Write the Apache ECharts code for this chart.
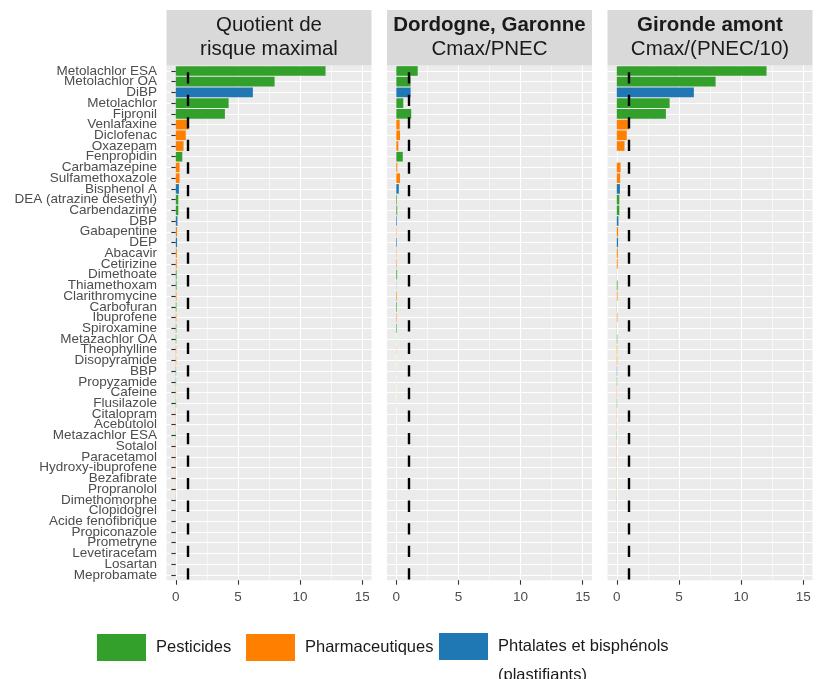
<!DOCTYPE html>
<html><head><meta charset="utf-8">
<script src="https://cdn.jsdelivr.net/npm/echarts@6/dist/echarts.min.js"></script>
<style>html,body{margin:0;padding:0;background:#fff}#c{width:826px;height:679px}</style>
</head><body><div id="c"></div>
<script>
const categories = ["Metolachlor ESA","Metolachlor OA","DiBP","Metolachlor","Fipronil","Venlafaxine","Diclofenac","Oxazepam","Fenpropidin","Carbamazepine","Sulfamethoxazole","Bisphenol A","DEA (atrazine desethyl)","Carbendazime","DBP","Gabapentine","DEP","Abacavir","Cetirizine","Dimethoate","Thiamethoxam","Clarithromycine","Carbofuran","Ibuprofene","Spiroxamine","Metazachlor OA","Theophylline","Disopyramide","BBP","Propyzamide","Cafeine","Flusilazole","Citalopram","Acebutolol","Metazachlor ESA","Sotalol","Paracetamol","Hydroxy-ibuprofene","Bezafibrate","Propranolol","Dimethomorphe","Clopidogrel","Acide fenofibrique","Propiconazole","Prometryne","Levetiracetam","Losartan","Meprobamate"];
const classes = ["P","P","B","P","P","H","H","H","P","H","H","B","P","P","B","H","B","H","H","P","P","H","P","H","P","P","H","H","B","P","H","P","H","H","P","H","H","H","H","H","P","H","H","P","P","H","H","H"];
const riskMax  = [12.05,7.95,6.2,4.25,3.95,1.0,0.8,0.62,0.52,0.3,0.3,0.25,0.2,0.2,0.13,0.1,0.1,0.08,0.07,0.065,0.06,0.055,0.05,0.048,0.045,0.04,0.04,0.04,0.03,0.03,0.03,0.03,0.02,0.02,0.02,0.015,0.015,0.01,0.01,0.01,0.01,0.008,0.005,0.005,0.004,0.003,0.002,0.001];
const dordogne = [1.72,1.15,1.15,0.56,1.2,0.27,0.3,0.16,0.52,0.08,0.3,0.2,0.05,0.07,0.05,0.03,0.05,0.03,0.04,0.065,0.02,0.05,0.05,0.04,0.045,0.01,0.02,0.01,0.01,0.01,0.01,0.01,0.005,0.005,0.005,0.005,0.005,0.003,0.003,0.003,0.003,0.002,0.002,0.002,0.001,0.001,0.001,0.0005];
const gironde  = [12.05,7.95,6.2,4.25,3.95,1.0,0.8,0.62,0,0.3,0.27,0.25,0.2,0.2,0.13,0.1,0.1,0.08,0.07,0.005,0.06,0.055,0.01,0.048,0.01,0.04,0.04,0.04,0.03,0.03,0.03,0.03,0.02,0.02,0.02,0.015,0.015,0.01,0.01,0.01,0.01,0.008,0.005,0.005,0.004,0.003,0.002,0.001];
const xTicks = [0,5,10,15];
const xMinor = [2.5,7.5,12.5];
const threshold = 1;
const classKeys = ["P","H","B"];
const classNames = {P:"Pesticides", H:"Pharmaceutiques", B:"Phtalates et bisphénols"};
const classColors = {P:"#33A02C", H:"#FF7F00", B:"#1F78B4"};
const stripTexts = ["{n|Quotient de}\n{n|risque maximal}", "{b|Dordogne, Garonne}\n{n|Cmax/PNEC}", "{b|Gironde amont}\n{n|Cmax/(PNEC/10)}"];
const panelValues = [riskMax, dordogne, gironde];

const FONT = "'Liberation Sans', Arial, sans-serif";
const lefts = [166.5, 387, 607.5];
const W = 205, TOP = 65.6, H = 514.6;

const grid = [], xAxis = [], yAxis = [], series = [], graphic = [];
lefts.forEach((l, i) => {
  grid.push({left:l, top:TOP, width:W, height:H, show:true, backgroundColor:'#EBEBEB', borderWidth:0});
  xAxis.push({type:'value', gridIndex:i, min:-0.75, max:15.75, position:'bottom',
    axisLine:{show:false},
    axisTick:{show:true, customValues:xTicks, length:4.5, lineStyle:{color:'#333333', width:1.1}},
    axisLabel:{customValues:xTicks, color:'#4D4D4D', fontSize:13.5, fontFamily:FONT, margin:10},
    splitLine:{show:true, lineStyle:{color:'#FFFFFF', width:1.1}}});
  xAxis.push({type:'value', gridIndex:i, min:-0.75, max:15.75, position:'bottom',
    axisLine:{show:false},
    axisTick:{show:false, customValues:xMinor},
    axisLabel:{show:false, customValues:xMinor},
    splitLine:{show:true, lineStyle:{color:'#FFFFFF', width:0.55}}});
  yAxis.push({type:'category', gridIndex:i, data:categories, inverse:true,
    axisLine:{show:false},
    axisTick:{show:i===0, alignWithLabel:true, length:4.5, lineStyle:{color:'#333333', width:1.1}},
    axisLabel:{show:i===0, interval:0, color:'#4D4D4D', fontSize:13.5, fontFamily:FONT, margin:9.5},
    splitLine:{show:true, alignWithLabel:true, interval:0, lineStyle:{color:'#FFFFFF', width:1.1}}});
  classKeys.forEach((c, j) => {
    const s = {type:'bar', name:classNames[c], xAxisIndex:2*i, yAxisIndex:i, stack:'s'+i,
      barCategoryGap:'10%', itemStyle:{color:classColors[c]},
      data: panelValues[i].map((v,k) => classes[k]===c ? v : '-')};
    if (j === 0) {
      s.markLine = {silent:true, symbol:'none', label:{show:false}, z:10,
        lineStyle:{color:'#000000', width:2.4, type:[11.3,11.25], dashOffset:16},
        data:[{xAxis:threshold}]};
    }
    series.push(s);
  });
  graphic.push({type:'rect', shape:{x:l, y:10, width:W, height:55.6}, style:{fill:'#D9D9D9'}, silent:true});
  graphic.push({type:'text', x:l + W/2, y:37, silent:true,
    style:{text:stripTexts[i], align:'center', verticalAlign:'middle', fill:'#1A1A1A',
      rich:{n:{fontSize:20.5, fontFamily:FONT, lineHeight:24, fill:'#1A1A1A'},
            b:{fontSize:20.5, fontFamily:FONT, fontWeight:'bold', lineHeight:24, fill:'#1A1A1A'}}}});
});

const legendLefts = [97, 246, 439];
const legend = classKeys.map((c, j) => ({
  left: legendLefts[j], top: j === 2 ? 603 : 633, orient:'horizontal', padding:0,
  data:[classNames[c]], icon:'rect', itemWidth:49, itemHeight:27,
  formatter: c === 'B' ? (n) => " \n" + n + "\n(plastifiants)" : undefined,
  textStyle:{fontSize:16.5, fontFamily:FONT, color:'#1A1A1A', lineHeight:29, padding:[0,0,0,5]}
}));

const chart = echarts.init(document.getElementById('c'), null, {renderer:'canvas'});
chart.setOption({animation:false, backgroundColor:'#FFFFFF', grid, xAxis, yAxis, series, legend, graphic});
</script></body></html>
